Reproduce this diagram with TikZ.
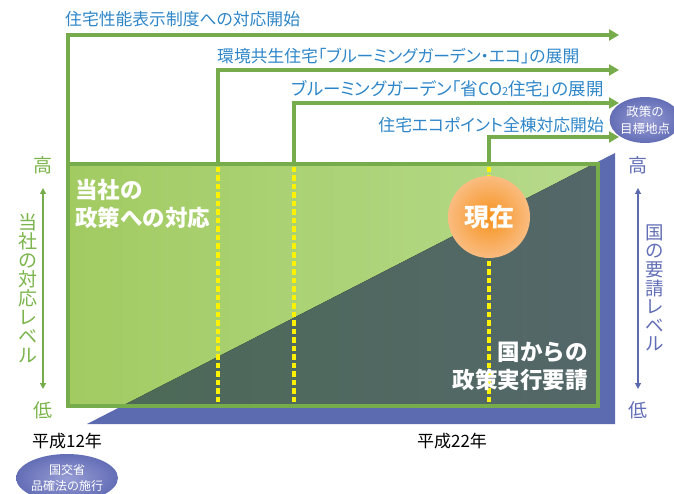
\documentclass[tikz,border=0pt]{standalone}
\usepackage{fontspec}
\setmainfont{Noto Sans CJK JP}
\newfontfamily\jpp[RawFeature=+palt]{Noto Sans CJK JP}
\usetikzlibrary{arrows.meta,shapes.geometric}
\definecolor{grn}{RGB}{118,172,76}
\definecolor{grntxt}{RGB}{122,180,74}
\definecolor{lgA}{RGB}{162,203,98}
\definecolor{lgB}{RGB}{182,218,140}
\definecolor{dkA}{RGB}{76,106,86}
\definecolor{dkB}{RGB}{84,103,106}
\definecolor{blu}{RGB}{92,107,176}
\definecolor{blutxt}{RGB}{98,110,182}
\definecolor{txtb}{RGB}{46,134,200}
\definecolor{ylw}{RGB}{255,242,0}
\definecolor{orgA}{RGB}{246,146,30}
\definecolor{orgB}{RGB}{250,188,128}
\definecolor{ellA}{RGB}{150,156,212}
\definecolor{ellB}{RGB}{100,110,182}
\tikzset{
  steparrow/.style={draw=grn,line width=4pt,-{Triangle[length=10pt,width=11pt]}},
  ydash/.style={draw=ylw,line width=3.2pt,dash pattern=on 5.5pt off 3pt},
  toptext/.style={text=txtb,font=\jpp\fontsize{16.8}{18}\selectfont,inner sep=0pt},
  axistxt/.style={font=\fontsize{19}{19}\selectfont,inner sep=0pt,align=center},
  whitebig/.style={text=white,font=\fontsize{22.5}{28}\selectfont\bfseries,inner sep=0pt},
  yeartxt/.style={text=black,font=\fontsize{17}{18}\selectfont,inner sep=0pt},
  smallell/.style={ellipse,inner sep=0pt,inner color=ellA,outer color=ellB,text=white,align=center,font=\fontsize{12.5}{17}\selectfont},
}
\begin{document}
\begin{tikzpicture}[x=1pt,y=-1pt]
\useasboundingbox (0,0) rectangle (674,494);
% geometry
\coordinate (bA) at (87,424);
\coordinate (bB) at (615,424);
\coordinate (bC) at (615,153);
\coordinate (rTL) at (68,164);
\coordinate (rBR) at (598,406);
% blue triangle
\fill[blu] (bA) -- (bB) -- (bC) -- cycle;
% light green rect
\fill[left color=lgA,right color=lgB] (rTL) rectangle (rBR);
% dark triangle inside rect
\begin{scope}
\clip (rTL) rectangle (rBR);
\fill[left color=dkA,right color=dkB] (bA) -- (bB) -- (bC) -- cycle;
\end{scope}
% yellow dashed lines
\coordinate (y2t) at (218,167); \coordinate (y2b) at (218,404);
\coordinate (y3t) at (294,167); \coordinate (y3b) at (294,404);
\coordinate (y4t) at (489,167); \coordinate (y4b) at (489,404);
\draw[ydash] (y2t) -- (y2b);
\draw[ydash] (y3t) -- (y3b);
\draw[ydash] (y4t) -- (y4b);
% rect border
\draw[grn,line width=3.5pt] (rTL) rectangle (rBR);
% step arrows
\coordinate (s1) at (68,165.75); \coordinate (e1) at (619,35);
\coordinate (s2) at (218,164); \coordinate (e2) at (619,70);
\coordinate (s3) at (294,164); \coordinate (e3) at (619,103);
\coordinate (s4) at (489,164); \coordinate (e4) at (619,137);
\draw[steparrow] (s1) |- (e1);
\draw[steparrow] (s2) |- (e2);
\draw[steparrow] (s3) |- (e3);
\draw[steparrow] (s4) |- (e4);
% top texts
\node[toptext,anchor=west] (t1) at (65,19) {住宅性能表示制度への対応開始};
\node[toptext,anchor=west] (t2) at (217,56) {環境共生住宅「ブルーミングガーデン・エコ」の展開};
\node[toptext,anchor=east,font=\jpp\fontsize{17.5}{18}\selectfont] (t3) at (604,89) {ブルーミングガーデン「省CO{\fontsize{11}{10}\selectfont 2}住宅」の展開};
\node[toptext,anchor=east] (t4) at (604,125) {住宅エコポイント全棟対応開始};
% goal ellipse
\node[smallell,minimum width=58pt,minimum height=46pt] (goal) at (645,120) {政策の\\目標地点};
% current circle
\node[circle,minimum size=82pt,inner sep=0pt,inner color=orgA,outer color=orgB,text=white,font=\fontsize{25}{25}\selectfont\bfseries] (now) at (489,217) {現在};
% white labels
\node[whitebig,anchor=west,align=left] (co) at (75,204) {当社の\\政策への対応};
\node[whitebig,anchor=east,align=right] (gov) at (588,366) {国からの\\政策実行要請};
% left axis
\node[axistxt,text=grntxt] (lhi) at (43,165) {高};
\node[axistxt,text=grntxt] (llo) at (43,410) {低};
\node[axistxt,text=grntxt] (lax) at (28,288) {当\\社\\の\\対\\応\\レ\\ベ\\ル};
\coordinate (la1) at (43,188); \coordinate (la2) at (43,389);
\draw[grn,line width=1.2pt,{Triangle[length=6pt,width=6pt]}-{Triangle[length=6pt,width=6pt]}] (la1) -- (la2);
% right axis
\node[axistxt,text=blutxt] (rhi) at (638,165) {高};
\node[axistxt,text=blutxt] (rlo) at (638,410) {低};
\node[axistxt,text=blutxt,font=\fontsize{18.5}{18.6}\selectfont] (rax) at (655,288) {国\\の\\要\\請\\レ\\ベ\\ル};
\coordinate (ra1) at (638,188); \coordinate (ra2) at (638,389);
\draw[blu,line width=1.2pt,{Triangle[length=6pt,width=6pt]}-{Triangle[length=6pt,width=6pt]}] (ra1) -- (ra2);
% years
\node[yeartxt] (h12) at (67,441) {平成12年};
\node[yeartxt] (h22) at (452,441) {平成22年};
% law ellipse
\node[smallell,minimum width=88pt,minimum height=48pt,font=\fontsize{12}{16}\selectfont] (law) at (67,478) {国交省\\品確法の施行};
\end{tikzpicture}
\end{document}
